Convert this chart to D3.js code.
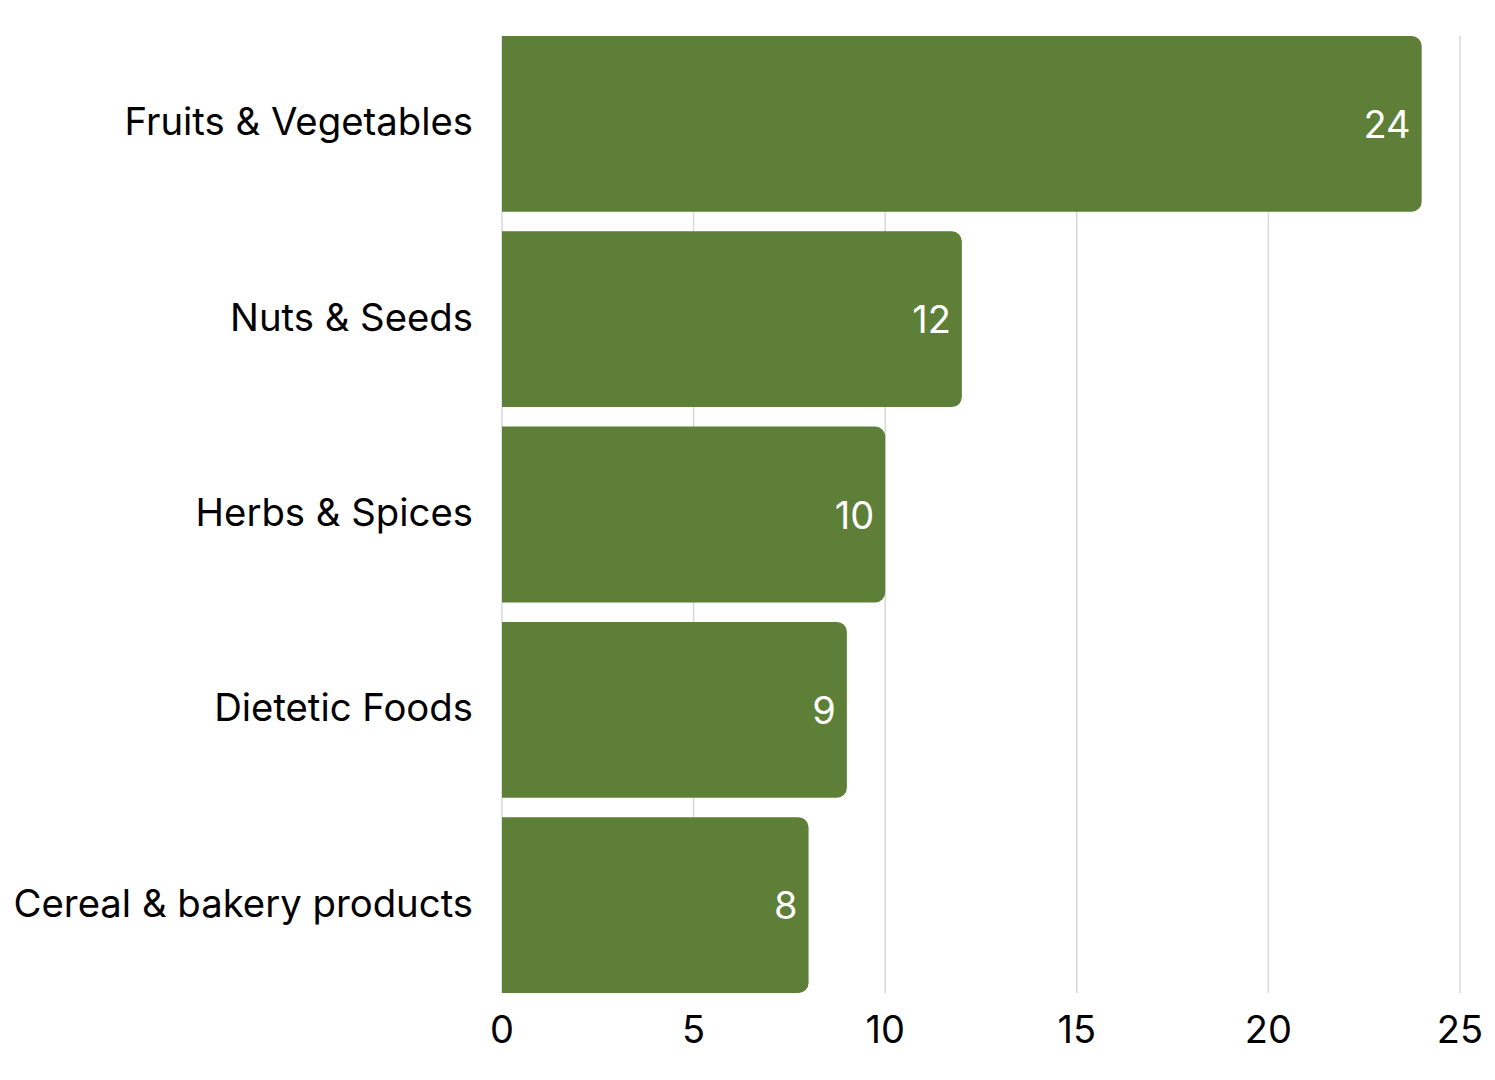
<!DOCTYPE html>
<html><head><meta charset="utf-8">
<script src="https://cdn.jsdelivr.net/npm/d3@7"></script>
<style>body{margin:0;background:#fff;} text{font-family:Inter, sans-serif;}</style>
</head><body>
<svg id="c" width="1495" height="1080"></svg>
<script>
const categories = ["Fruits & Vegetables","Nuts & Seeds","Herbs & Spices","Dietetic Foods","Cereal & bakery products"];
const values = [24,12,10,9,8];
const ticks = [0,5,10,15,20,25];

(function(){
const svg = d3.select("#c");
const mL = 502, mR = 1460, mT = 36, mB = 993;
const x = d3.scaleLinear().domain([0,25]).range([mL,mR]);
const y = d3.scaleBand().domain(categories).range([mT,mB]).paddingInner(0.1).paddingOuter(0);

svg.append("g").selectAll("line").data(ticks).join("line")
  .attr("x1",d=>x(d)).attr("x2",d=>x(d)).attr("y1",mT).attr("y2",mB)
  .attr("stroke","#d9d9d9").attr("stroke-width",1.5);

const r = 10;
svg.append("g").selectAll("path").data(values).join("path")
  .attr("fill","#5d7f38")
  .attr("d",(d,i)=>{
    const x0=x(0), x1=x(d), y0=y(categories[i]), h=y.bandwidth();
    return `M${x0},${y0}H${x1-r}A${r},${r} 0 0 1 ${x1},${y0+r}V${y0+h-r}A${r},${r} 0 0 1 ${x1-r},${y0+h}H${x0}Z`;
  });

svg.append("g").selectAll("text").data(values).join("text")
  .attr("x",d=>x(d)-11).attr("y",(d,i)=>y(categories[i])+y.bandwidth()/2+1)
  .attr("dy","0.35em").attr("text-anchor","end").attr("fill","#fff")
  .attr("font-size",38).text(d=>d);

svg.append("g").selectAll("text").data(categories).join("text")
  .attr("x",mL-29).attr("y",d=>y(d)+y.bandwidth()/2-2)
  .attr("dy","0.35em").attr("text-anchor","end").attr("fill","#000")
  .attr("font-size",38.3).text(d=>d);

svg.append("g").selectAll("text").data(ticks).join("text")
  .attr("x",d=>x(d)).attr("y",1043).attr("text-anchor","middle").attr("fill","#000")
  .attr("font-size",38).text(d=>d);
})();
</script>
</body></html>
